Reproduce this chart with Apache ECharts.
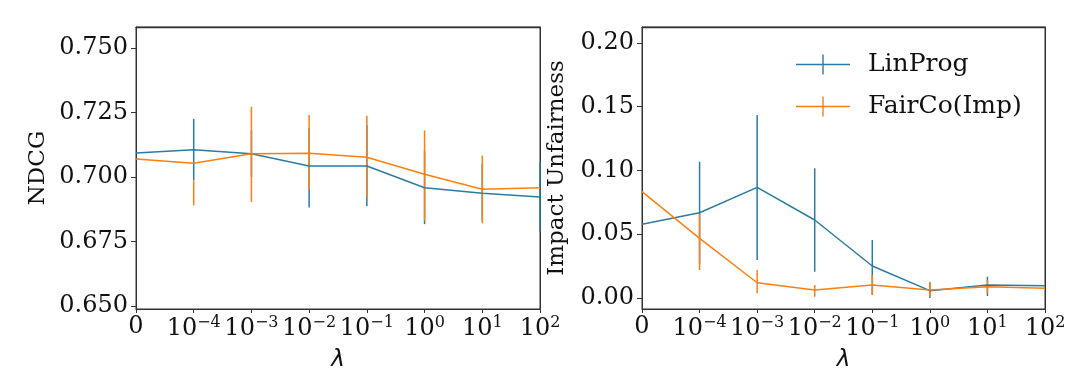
<!DOCTYPE html>
<html>
<head>
<meta charset="utf-8">
<script src="https://cdn.jsdelivr.net/npm/echarts@6/dist/echarts.min.js"></script>
<style>
  html, body { margin: 0; padding: 0; background: #fff; }
  #chart { width: 1080px; height: 382px; }
</style>
</head>
<body>
<div id="chart"></div>
<script>
// x 轴: lambda
var lambdas = ['0', '-4', '-3', '-2', '-1', '0', '1', '2'];

// 左图 NDCG
var ndcgLin = [0.7093, 0.7105, 0.7090, 0.7042, 0.7042, 0.6958, 0.6937, 0.6922];
var ndcgFair = [0.7069, 0.7053, 0.7090, 0.7092, 0.7076, 0.7010, 0.6952, 0.6958];
var ndcgLinLow = [0.7093, 0.6986, 0.7000, 0.6881, 0.6886, 0.6817, 0.6830, 0.6787];
var ndcgLinHigh = [0.7093, 0.7225, 0.7180, 0.7190, 0.7200, 0.7100, 0.7050, 0.7057];
var ndcgFairLow = [0.7069, 0.6890, 0.6903, 0.6950, 0.6920, 0.6830, 0.6820, 0.6958];
var ndcgFairHigh = [0.7069, 0.6986, 0.7272, 0.7240, 0.7237, 0.7180, 0.7083, 0.6958];

// 右图 Impact Unfairness
var impLin = [0.0578, 0.0669, 0.0868, 0.0612, 0.0251, 0.0058, 0.0102, 0.0097];
var impFair = [0.0834, 0.0468, 0.0120, 0.0063, 0.0102, 0.0063, 0.0089, 0.0076];
var impLinLow = [0.0578, 0.0269, 0.0298, 0.0206, 0.0024, 0.0000, 0.0016, 0.0097];
var impLinHigh = [0.0578, 0.1069, 0.1435, 0.1017, 0.0455, 0.0120, 0.0167, 0.0097];
var impFairLow = [0.0834, 0.0220, 0.0037, 0.0010, 0.0024, 0.0010, 0.0040, 0.0076];
var impFairHigh = [0.0834, 0.0660, 0.0220, 0.0102, 0.0180, 0.0128, 0.0140, 0.0076];

var ndcgTicks = [0.65, 0.675, 0.7, 0.725, 0.75];
var impTicks = [0, 0.05, 0.1, 0.15, 0.2];

var blue = '#2c7ba3';
var orange = '#ff7f0e';
var font = 'DejaVu Serif';
var axisColor = '#333';

function errData(low, high) {
    return low.map(function (v, i) { return [i, v, high[i]]; });
}

function errSeries(name, xi, yi, low, high, color) {
    return {
        name: name,
        type: 'custom',
        xAxisIndex: xi,
        yAxisIndex: yi,
        data: errData(low, high),
        encode: {x: 0, y: [1, 2]},
        renderItem: function (params, api) {
            var p1 = api.coord([api.value(0), api.value(1)]);
            var p2 = api.coord([api.value(0), api.value(2)]);
            return {
                type: 'line',
                shape: {x1: p1[0], y1: p1[1], x2: p2[0], y2: p2[1]},
                style: {stroke: color, lineWidth: 1.5}
            };
        },
        silent: true
    };
}

function lineSeries(name, xi, yi, data, color) {
    return {
        name: name,
        type: 'line',
        xAxisIndex: xi,
        yAxisIndex: yi,
        data: data,
        symbol: 'none',
        lineStyle: {color: color, width: 1.5},
        itemStyle: {color: color},
        animation: false
    };
}

function xAxis(gi) {
    return {
        type: 'category',
        gridIndex: gi,
        data: lambdas,
        boundaryGap: false,
        name: 'λ',
        nameLocation: 'middle',
        nameGap: 40,
        nameTextStyle: {fontFamily: 'DejaVu Sans', fontStyle: 'italic', fontSize: 23, color: '#111'},
        axisLine: {show: true, onZero: false, lineStyle: {color: axisColor, width: 1}},
        axisTick: {show: true, length: 4, alignWithLabel: true, lineStyle: {color: axisColor}},
        axisLabel: {
            interval: 0,
            hideOverlap: false,
            margin: 6,
            color: '#111',
            fontFamily: font,
            fontSize: 24,
            formatter: function (v, i) {
                if (i === 0) return '{b|0}';
                return '{b|10}{s|' + v.replace('-', '−') + '}';
            },
            rich: {
                b: {fontFamily: font, fontSize: 24, color: '#111', verticalAlign: 'bottom'},
                s: {fontFamily: font, fontSize: 16, color: '#111', verticalAlign: 'top', padding: [0, 0, 10, 0]}
            }
        },
        splitLine: {show: false}
    };
}

// 上边框
function topAxis(gi) {
    return {
        type: 'category',
        gridIndex: gi,
        data: lambdas,
        boundaryGap: false,
        position: 'top',
        axisLine: {show: true, onZero: false, lineStyle: {color: axisColor, width: 1.3}},
        axisTick: {show: false},
        axisLabel: {show: false},
        splitLine: {show: false}
    };
}

function yAxis(gi, name, gap, min, max, ticks, digits) {
    return {
        type: 'value',
        gridIndex: gi,
        min: min,
        max: max,
        name: name,
        nameLocation: 'middle',
        nameGap: gap,
        nameTextStyle: {fontFamily: font, fontSize: 23, color: '#111'},
        axisLine: {show: true, onZero: false, lineStyle: {color: axisColor, width: 1}},
        axisTick: {show: true, length: 5, customValues: ticks, lineStyle: {color: axisColor}},
        axisLabel: {
            customValues: ticks,
            margin: 8,
            color: '#111',
            fontFamily: font,
            fontSize: 24,
            formatter: function (v) { return v.toFixed(digits); }
        },
        splitLine: {show: false}
    };
}

// 右边框
function rightAxis(gi, min, max) {
    return {
        type: 'value',
        gridIndex: gi,
        min: min,
        max: max,
        position: 'right',
        axisLine: {show: true, onZero: false, lineStyle: {color: axisColor, width: 1}},
        axisTick: {show: false},
        axisLabel: {show: false},
        splitLine: {show: false}
    };
}

var myChart = echarts.init(document.getElementById('chart'), null, {renderer: 'canvas'});

var option = {
    backgroundColor: '#fff',
    animation: false,
    grid: [
        {left: 136, top: 27, width: 404, height: 282, show: true, borderColor: axisColor, borderWidth: 1, backgroundColor: 'transparent'},
        {left: 642, top: 27, width: 403, height: 282, show: true, borderColor: axisColor, borderWidth: 1, backgroundColor: 'transparent'}
    ],
    xAxis: [xAxis(0), xAxis(1), topAxis(0), topAxis(1)],
    yAxis: [
        yAxis(0, 'NDCG', 86, 0.6488, 0.7581, ndcgTicks, 3),
        yAxis(1, 'Impact Unfairness', 73, -0.0086, 0.2125, impTicks, 2),
        rightAxis(0, 0.6488, 0.7581),
        rightAxis(1, -0.0086, 0.2125)
    ],
    legend: {
        orient: 'vertical',
        left: 791,
        top: 47,
        itemWidth: 54,
        itemHeight: 20,
        itemGap: 17,
        icon: 'path://M0,9.3 L54,9.3 L54,10.7 L0,10.7 Z M26.3,0 L27.7,0 L27.7,20 L26.3,20 Z',
        data: ['LinProg', 'FairCo(Imp)'],
        textStyle: {fontFamily: font, fontSize: 25, color: '#111', padding: [0, 0, 0, 13]}
    },
    series: [
        lineSeries('LinProg', 0, 0, ndcgLin, blue),
        errSeries('LinProg err', 0, 0, ndcgLinLow, ndcgLinHigh, blue),
        lineSeries('FairCo(Imp)', 0, 0, ndcgFair, orange),
        errSeries('FairCo err', 0, 0, ndcgFairLow, ndcgFairHigh, orange),
        lineSeries('LinProg', 1, 1, impLin, blue),
        errSeries('LinProg err', 1, 1, impLinLow, impLinHigh, blue),
        lineSeries('FairCo(Imp)', 1, 1, impFair, orange),
        errSeries('FairCo err', 1, 1, impFairLow, impFairHigh, orange)
    ]
};

myChart.setOption(option);
</script>
</body>
</html>
